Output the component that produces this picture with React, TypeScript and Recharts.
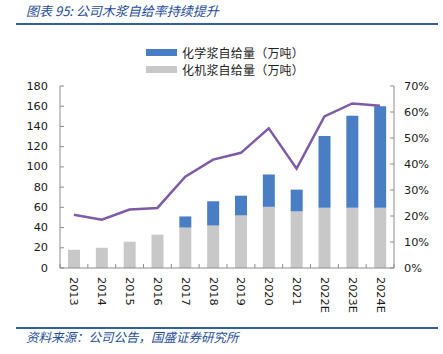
import React from 'react';
import { ComposedChart, Bar, Line, XAxis, YAxis, Legend } from 'recharts';

const years = ['2013', '2014', '2015', '2016', '2017', '2018', '2019', '2020', '2021', '2022E', '2023E', '2024E'];
const mechanicalPulp = [18, 20, 26, 33, 40, 42, 52, 60.5, 56, 59.5, 59.5, 59.5];
const chemicalPulp = [0, 0, 0, 0, 11, 24, 19.5, 32, 21.5, 71, 91, 100.5];
const selfSufficiency = [0.205, 0.186, 0.225, 0.231, 0.351, 0.417, 0.443, 0.537, 0.382, 0.583, 0.633, 0.624];
const leftTicks = [0, 20, 40, 60, 80, 100, 120, 140, 160, 180];
const rightTicks = [0, 0.1, 0.2, 0.3, 0.4, 0.5, 0.6, 0.7];

const chemLabel = '化学浆自给量（万吨）';
const mechLabel = '化机浆自给量（万吨）';

const data = years.map((y, i) => ({
  year: y,
  mech: mechanicalPulp[i],
  chem: chemicalPulp[i],
  rate: selfSufficiency[i],
}));

const W = 443;
const H = 354;
const LEFT_W = 60;
const RIGHT_W = 49;
const TOP = 52;
const XH = 86;
const PLOT_W = W - LEFT_W - RIGHT_W;
const BAND = PLOT_W / years.length;

const AXIS = '#8c8c8c';
const TXT = '#1a1a1a';
const FONT = '"DejaVu Sans", Verdana, sans-serif';
const BLUE = '#4A7EC4';
const GRAY = '#C8C8C8';
const PURPLE = '#7D5BA6';
const TITLE_BLUE = '#1F4E9A';

const LeftTick = (props: any) => {
  const { x, y, payload } = props;
  return (
    <g>
      <line x1={x + 12} x2={x + 16} y1={y} y2={y} stroke={AXIS} strokeWidth={1} />
      <text x={x} y={y} textAnchor="end" dominantBaseline="central" fontSize={11.3} fill={TXT} fontFamily={FONT}>
        {payload.value}
      </text>
    </g>
  );
};

const RightTick = (props: any) => {
  const { x, y, payload } = props;
  return (
    <g>
      <line x1={x - 10} x2={x - 14} y1={y} y2={y} stroke={AXIS} strokeWidth={1} />
      <text x={x} y={y} textAnchor="start" dominantBaseline="central" fontSize={11.3} fill={TXT} fontFamily={FONT}>
        {Math.round(payload.value * 100) + '%'}
      </text>
    </g>
  );
};

const BottomTick = (props: any) => {
  const { x, y, payload, index } = props;
  const axisY = y - 9;
  const last = index === years.length - 1;
  return (
    <g>
      <line x1={x - BAND / 2} x2={x - BAND / 2} y1={axisY} y2={axisY - 4} stroke={AXIS} strokeWidth={1} />
      {last ? <line x1={x + BAND / 2} x2={x + BAND / 2} y1={axisY} y2={axisY - 4} stroke={AXIS} strokeWidth={1} /> : null}
      <text
        transform={`translate(${x},${y}) rotate(90)`}
        textAnchor="start"
        dominantBaseline="central"
        fontSize={11.3}
        fill={TXT}
        fontFamily={FONT}
      >
        {payload.value}
      </text>
    </g>
  );
};

const LegendContent = () => {
  const items = [
    { label: chemLabel, color: BLUE },
    { label: mechLabel, color: GRAY },
  ];
  return (
    <div style={{ fontFamily: '"Noto Sans CJK SC", sans-serif', fontSize: 12, color: '#222' }}>
      {items.map((it) => (
        <div key={it.label} style={{ display: 'flex', alignItems: 'center', height: 17 }}>
          <div style={{ width: 31, height: 7, background: it.color, marginRight: 5 }} />
          <span style={{ lineHeight: '17px', letterSpacing: 0.2 }}>{it.label}</span>
        </div>
      ))}
    </div>
  );
};

export default function App() {
  return (
    <div style={{ position: 'absolute', left: 0, top: 0, width: W, height: H, background: '#fff', overflow: 'hidden' }}>
      <div
        style={{
          position: 'absolute',
          left: 26,
          top: 2,
          fontFamily: '"Noto Sans CJK SC", sans-serif',
          fontStyle: 'italic',
          fontSize: 13,
          color: TITLE_BLUE,
          whiteSpace: 'nowrap',
          lineHeight: '18px',
        }}
      >
        图表 95:  公司木浆自给率持续提升
      </div>
      <div style={{ position: 'absolute', left: 16, top: 23, width: 422, height: 2, background: '#2E5FA8' }} />
      <div style={{ position: 'absolute', left: 0, top: 0 }}>
        <ComposedChart width={W} height={H} data={data} margin={{ top: TOP, right: 0, left: 0, bottom: 0 }}>
          <XAxis
            dataKey="year"
            height={XH}
            interval={0}
            tickSize={0}
            tickMargin={9}
            tickLine={false}
            axisLine={{ stroke: AXIS }}
            tick={<BottomTick />}
          />
          <YAxis
            yAxisId="left"
            orientation="left"
            width={LEFT_W}
            domain={[0, 180]}
            ticks={leftTicks}
            interval={0}
            tickSize={0}
            tickMargin={12}
            tickLine={false}
            axisLine={{ stroke: AXIS }}
            tick={<LeftTick />}
          />
          <YAxis
            yAxisId="right"
            orientation="right"
            width={RIGHT_W}
            domain={[0, 0.7]}
            ticks={rightTicks}
            interval={0}
            tickSize={0}
            tickMargin={10}
            tickLine={false}
            axisLine={{ stroke: AXIS }}
            tick={<RightTick />}
          />
          <Legend
            verticalAlign="top"
            align="left"
            content={<LegendContent />}
            wrapperStyle={{ position: 'absolute', left: 146, top: 44, width: 200 }}
          />
          <Bar yAxisId="left" dataKey="mech" stackId="a" fill={GRAY} barSize={12} isAnimationActive={false} name={mechLabel} />
          <Bar yAxisId="left" dataKey="chem" stackId="a" fill={BLUE} barSize={12} isAnimationActive={false} name={chemLabel} />
          <Line
            yAxisId="right"
            dataKey="rate"
            stroke={PURPLE}
            strokeWidth={2.5}
            dot={false}
            isAnimationActive={false}
            legendType="none"
          />
        </ComposedChart>
      </div>
      <div style={{ position: 'absolute', left: 16, top: 327, width: 422, height: 2, background: '#2E5FA8' }} />
      <div
        style={{
          position: 'absolute',
          left: 26,
          top: 329,
          fontFamily: '"Noto Sans CJK SC", sans-serif',
          fontStyle: 'italic',
          fontSize: 12.5,
          color: TITLE_BLUE,
          whiteSpace: 'nowrap',
          lineHeight: '16px',
        }}
      >
        资料来源：公司公告，国盛证券研究所
      </div>
    </div>
  );
}
